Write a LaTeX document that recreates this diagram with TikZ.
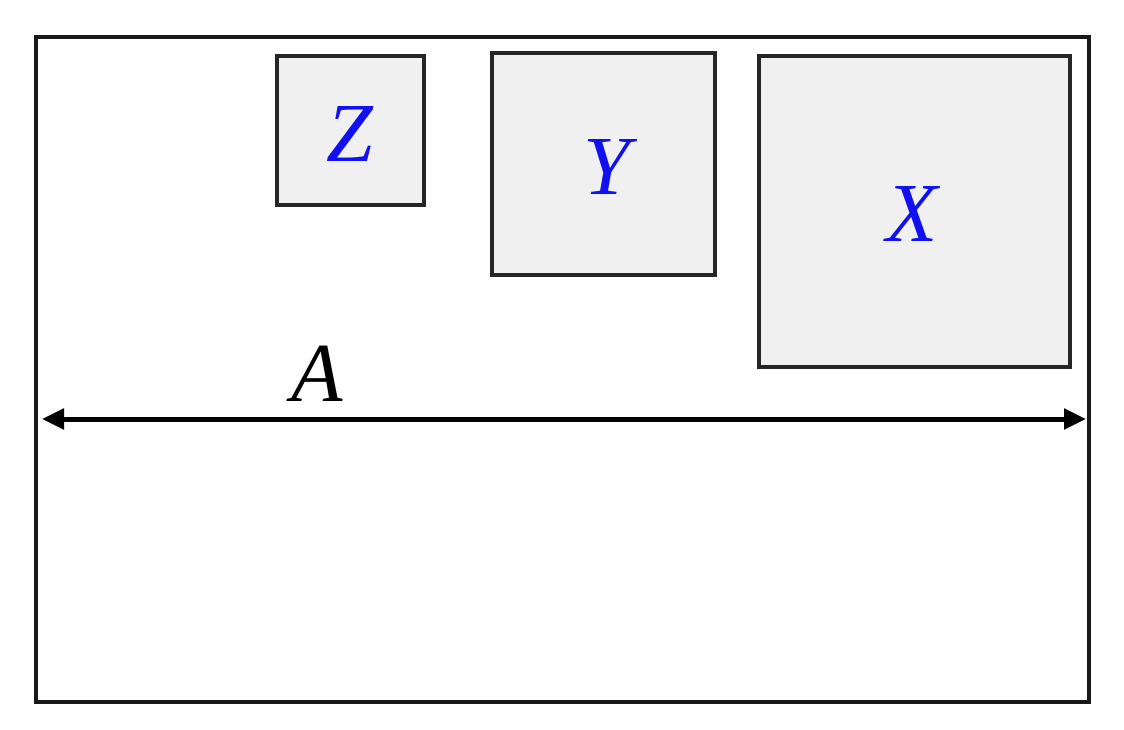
\documentclass[tikz,border=0pt]{standalone}
\usepackage{fontspec}
\setmainfont{Liberation Serif}
\usetikzlibrary{arrows.meta}
\definecolor{boxfill}{HTML}{F0F0F0}
\definecolor{lblblue}{HTML}{1010F0}
\tikzset{
  sqbox/.style={draw=black!85, line width=1.6pt, fill=boxfill},
  lbl/.style={inner sep=0pt, font=\fontsize{42}{50}\selectfont\itshape},
  dimline/.style={line width=2.5pt, {Triangle[length=11pt,width=10pt]}-{Triangle[length=11pt,width=10pt]}}
}
\begin{document}
\begin{tikzpicture}[x=0.5pt,y=-0.5pt]
\useasboundingbox (0,0) rectangle (1124,729);
\draw[line width=1.6pt, draw=black!90] (36,37) rectangle (1089,702);
\draw[sqbox] (277,56) rectangle (424,205);
\draw[sqbox] (492,53) rectangle (715,275);
\draw[sqbox] (759,56) rectangle (1070,367);
\node[lbl, text=lblblue] (z) at (350,134) {Z};
\node[lbl, text=lblblue] (y) at (607,167) {Y};
\node[lbl, text=lblblue] (x) at (912,214) {X};
\node[lbl] (a) at (317,374) {A};
\coordinate (l) at (42,419);
\coordinate (r) at (1086,419);
\draw[dimline] (l) -- (r);
\end{tikzpicture}
\end{document}
